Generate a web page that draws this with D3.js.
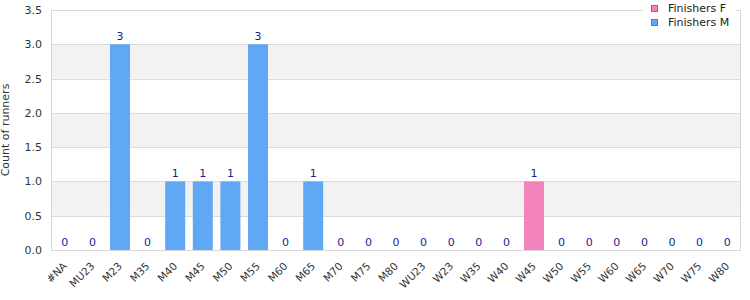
<!DOCTYPE html>
<html>
<head>
<meta charset="utf-8">
<script src="https://cdn.jsdelivr.net/npm/d3@7"></script>
<style>
  body { margin: 0; background: #fff; }
  svg { font-family: "DejaVu Sans", sans-serif; }
</style>
</head>
<body>
<div id="chart"></div>
<script>
// categories and series
var categories = ['#NA', 'MU23', 'M23', 'M35', 'M40', 'M45', 'M50', 'M55', 'M60', 'M65', 'M70', 'M75', 'M80',
    'WU23', 'W23', 'W35', 'W40', 'W45', 'W50', 'W55', 'W60', 'W65', 'W70', 'W75', 'W80'];
var finishers_m = [0, 0, 3, 0, 1, 1, 1, 3, 0, 1, 0, 0, 0, null, null, null, null, null, null, null, null, null, null, null, null];
var finishers_f = [null, null, null, null, null, null, null, null, null, null, null, null, null, 0, 0, 0, 0, 1, 0, 0, 0, 0, 0, 0, 0];
var y_ticks = [0, 0.5, 1, 1.5, 2, 2.5, 3, 3.5];
var series_names = ['Finishers F', 'Finishers M'];
var series_colors = ['#f383bd', '#60a8f4'];

var width = 750, height = 300;
var margin = {top: 10, right: 9, bottom: 50, left: 51};
var inner_w = width - margin.left - margin.right;
var inner_h = height - margin.top - margin.bottom;

var svg = d3.select('#chart').append('svg').attr('width', width).attr('height', height);
var g = svg.append('g').attr('transform', 'translate(' + margin.left + ',' + margin.top + ')');

var x = d3.scaleBand().domain(categories).range([0, inner_w]);
var y = d3.scaleLinear().domain([0, 3.5]).range([inner_h, 0]);

// alternating bands
for (var i = 0; i < y_ticks.length - 1; i++) {
    if (i % 2 === 1) {
        g.append('rect')
            .attr('x', 0).attr('width', inner_w)
            .attr('y', y(y_ticks[i + 1])).attr('height', y(y_ticks[i]) - y(y_ticks[i + 1]))
            .attr('fill', '#f2f2f2');
    }
}

// grid lines
g.selectAll('.grid').data(y_ticks).enter().append('line')
    .attr('x1', 0).attr('x2', inner_w)
    .attr('y1', function (d) { return Math.round(y(d)) + 0.5; })
    .attr('y2', function (d) { return Math.round(y(d)) + 0.5; })
    .attr('stroke', '#dcdcdc');

// frame
g.append('rect').attr('x', 0.5).attr('y', 0.5).attr('width', inner_w - 1).attr('height', inner_h)
    .attr('fill', 'none').attr('stroke', '#d8d8d8');

// y axis
var yAxis = g.append('g').call(d3.axisLeft(y).tickValues(y_ticks).tickFormat(d3.format('.1f')).tickSize(0).tickPadding(9));
yAxis.select('.domain').remove();
yAxis.selectAll('text').attr('font-size', 11).attr('fill', '#333').attr('font-family', '"DejaVu Sans", sans-serif');

svg.append('text')
    .attr('transform', 'translate(9,' + (margin.top + inner_h / 2) + ') rotate(-90)')
    .attr('text-anchor', 'middle')
    .attr('font-size', 11).attr('fill', '#333')
    .text('Count of runners');

// x axis
var xAxis = g.append('g').attr('transform', 'translate(0,' + inner_h + ')')
    .call(d3.axisBottom(x).tickSize(0));
xAxis.select('.domain').remove();
xAxis.selectAll('text')
    .attr('font-size', 10.5).attr('fill', '#333').attr('font-family', '"DejaVu Sans", sans-serif')
    .attr('text-anchor', 'end')
    .attr('dy', '0.35em')
    .attr('transform', 'translate(-2,12) rotate(-45)');

// bars
var bar_w = 20;
function draw_series(values, color) {
    var pts = categories.map(function (c, i) { return {cat: c, v: values[i]}; })
        .filter(function (d) { return d.v !== null; });
    g.selectAll(null).data(pts.filter(function (d) { return d.v > 0; })).enter().append('rect')
        .attr('x', function (d) { return x(d.cat) + x.bandwidth() / 2 - bar_w / 2; })
        .attr('width', bar_w)
        .attr('y', function (d) { return y(d.v); })
        .attr('height', function (d) { return y(0) - y(d.v); })
        .attr('fill', color);
    g.selectAll(null).data(pts).enter().append('text')
        .attr('x', function (d) { return x(d.cat) + x.bandwidth() / 2; })
        .attr('y', function (d) { return y(d.v) - 4; })
        .attr('text-anchor', 'middle')
        .attr('font-size', 11)
        .attr('fill', '#1c1c96')
        .text(function (d) { return d.v; });
}
draw_series(finishers_m, series_colors[1]);
draw_series(finishers_f, series_colors[0]);

// legend
var legend = svg.append('g');
legend.append('rect').attr('x', 643).attr('y', 0).attr('width', 93).attr('height', 30).attr('fill', '#fff');
series_names.forEach(function (name, i) {
    legend.append('rect').attr('x', 651.5).attr('y', 5.5 + i * 14).attr('width', 6).attr('height', 6)
        .attr('fill', series_colors[i]).attr('stroke', '#777');
    legend.append('text').attr('x', 668).attr('y', 12 + i * 14)
        .attr('font-size', 11).attr('fill', '#222').text(name);
});
</script>
</body>
</html>
